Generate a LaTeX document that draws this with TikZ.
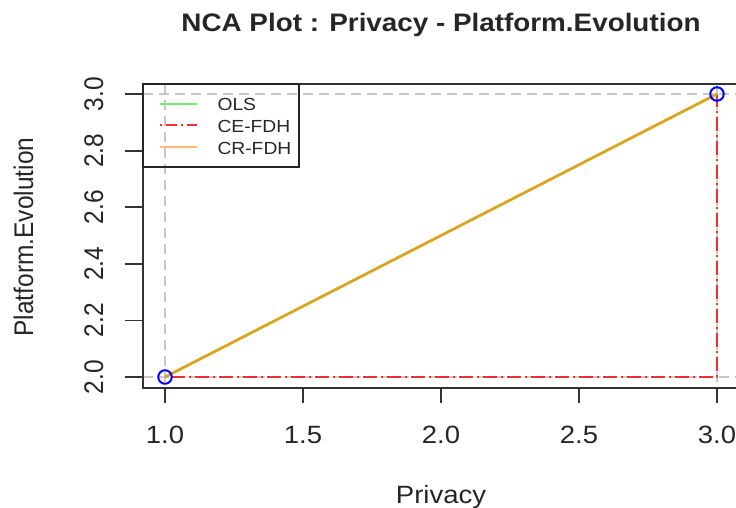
\documentclass[tikz,border=0pt]{standalone}
\usepackage{fontspec}
\setmainfont{Liberation Sans}[FakeStretch=1.1]
\newfontfamily\upfont{Liberation Sans}
\usepackage{xcolor}
\usepackage{tikz}
\usepackage{graphicx}
\definecolor{olsgreen}{HTML}{70EE70}
\definecolor{cered}{HTML}{F03030}
\definecolor{crgold}{HTML}{DAA520}
\definecolor{crlegend}{HTML}{FFB870}

\begin{document}
\begin{tikzpicture}[x=1pt, y=-1pt,
  frame/.style={line width=1.8pt, black!80},
  guide/.style={line width=1.6pt, black!22, dash pattern=on 10pt off 6pt},
  cefdh/.style={line width=1.5pt, cered, dash pattern=on 2pt off 4pt on 14pt off 4pt},
  crfdh/.style={line width=2.8pt, crgold},
  peer/.style={circle, draw=blue, line width=2pt, minimum size=13.5pt, inner sep=0pt},
  lab/.style={text=black!85, font=\fontsize{25}{28}\selectfont},
  vlab/.style={text=black!85, rotate=90, anchor=base, font=\upfont\fontsize{24.5}{28}\selectfont},
  keylab/.style={text=black!85, anchor=base west, font=\fontsize{17.5}{20}\selectfont}]
\useasboundingbox (0,0) rectangle (736,508);
\clip (0,0) rectangle (736,508);

\node[lab, anchor=base, font=\bfseries\fontsize{25.3}{28}\selectfont] (title) at (441,32) {NCA Plot : Privacy - Platform.Evolution};

% guide lines
\draw[guide] (165,84) -- (165,388);
\draw[guide] (717,84) -- (717,388);
\draw[guide] (143,94) -- (740,94);
\draw[guide] (143,377) -- (740,377);

\coordinate (lo) at (165,377);
\coordinate (hi) at (717,94);
\draw[cefdh] (lo) -| (hi);
\draw[crfdh] (lo) -- (hi);
\node[peer] (plo) at (lo) {};
\node[peer] (phi) at (hi) {};

\draw[frame] (740,84) -- (143,84) -- (143,388) -- (740,388);

\foreach \x/\v [count=\i] in {165/1.0, 303/1.5, 441/2.0, 579/2.5, 717/3.0} {
  \draw[frame] (\x,388) -- (\x,403);
  \node[lab, anchor=base] (xt\i) at (\x,443) {\v};
}
\foreach \y/\v [count=\i] in {377/2.0, 320.4/2.2, 263.8/2.4, 207.2/2.6, 150.6/2.8, 94/3.0} {
  \draw[frame] (125,\y) -- (143,\y);
  \node[vlab] (yt\i) at (103,\y) {\scalebox{1}[1.1]{\v}};
}
\node[lab, anchor=base] (xlab) at (441,503) {Privacy};
\node[vlab] (ylab) at (33,237) {\scalebox{1}[1.1]{Platform.Evolution}};

% legend
\draw[line width=1.3pt, black!85] (143,84) rectangle (299,167);
\draw[line width=2pt, olsgreen] (160,104) -- (197,104);
\draw[line width=1.4pt, cered, dash pattern=on 2pt off 4pt on 11pt off 4pt] (160,125) -- (197,125);
\draw[line width=2.4pt, crlegend] (160,147) -- (197,147);
\node[keylab] (kols) at (214,111) {OLS};
\node[keylab] (kce) at (214,132) {CE-FDH};
\node[keylab] (kcr) at (214,154) {CR-FDH};
\end{tikzpicture}
\end{document}
